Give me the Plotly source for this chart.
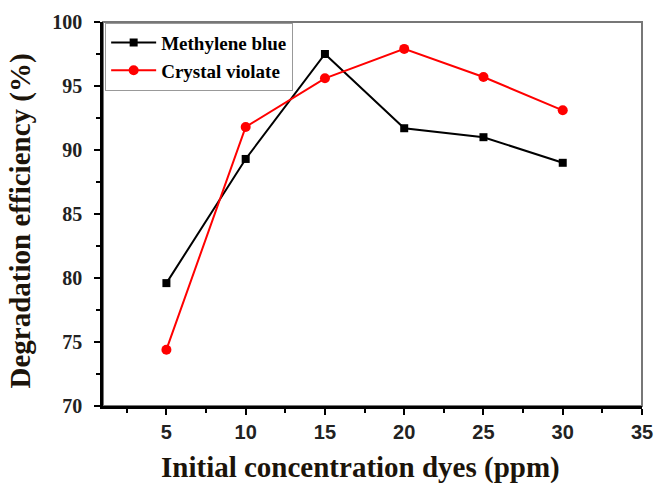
import plotly.graph_objects as go

# Initial dye concentration (ppm)
concentration = [5, 10, 15, 20, 25, 30]

# Degradation efficiency (%) for each dye
methylene_blue = [79.6, 89.3, 97.5, 91.7, 91.0, 89.0]
crystal_violate = [74.4, 91.8, 95.6, 97.9, 95.7, 93.1]

x_ticks = [5, 10, 15, 20, 25, 30, 35]
y_ticks = [70, 75, 80, 85, 90, 95, 100]

x_title = "Initial concentration dyes (ppm)"
y_title = "Degradation efficiency (%)"

serif = "Liberation Serif, Times New Roman, serif"
sans = "Liberation Sans, Arial, sans-serif"

fig = go.Figure()

fig.add_trace(go.Scatter(
    x=concentration, y=methylene_blue, name="Methylene blue",
    mode="lines+markers",
    line=dict(color="black", width=2),
    marker=dict(symbol="square", size=8, color="black"),
))
fig.add_trace(go.Scatter(
    x=concentration, y=crystal_violate, name="Crystal violate",
    mode="lines+markers",
    line=dict(color="#ff0000", width=2),
    marker=dict(symbol="circle", size=10, color="#ff0000"),
))

# thin grey frame on top/right; black axis lines drawn over left/bottom
fig.add_shape(type="rect", xref="paper", yref="paper", x0=0, y0=0, x1=1, y1=1,
              line=dict(color="#777777", width=2), layer="below")

# axis titles placed as annotations
fig.add_annotation(text=x_title, xref="paper", yref="paper",
                   x=0.477, y=-0.159, xanchor="center", yanchor="middle",
                   showarrow=False,
                   font=dict(family=serif, size=29, color="#1c140a", weight="bold"))
fig.add_annotation(text=y_title, xref="paper", yref="paper",
                   x=-0.153, y=0.482, xanchor="center", yanchor="middle",
                   textangle=-90, showarrow=False,
                   font=dict(family=serif, size=29, color="#1c140a", weight="bold"))

fig.update_layout(
    width=656, height=483,
    margin=dict(l=103, r=14, t=22, b=77, autoexpand=False),
    paper_bgcolor="white", plot_bgcolor="white",
    showlegend=True,
    legend=dict(
        x=0.004, y=0.998, xanchor="left", yanchor="top",
        bordercolor="#999999", borderwidth=1, bgcolor="white",
        font=dict(family=serif, size=19, color="black", weight="bold"),
        tracegroupgap=0, itemwidth=45,
    ),
    xaxis=dict(
        range=[1, 35], tickvals=x_ticks, ticktext=[str(v) for v in x_ticks],
        showgrid=False, zeroline=False, automargin=False,
        showline=True, linecolor="black", linewidth=2.5,
        ticks="outside", ticklen=6, tickwidth=2, tickcolor="black",
        tickfont=dict(family=sans, size=20, color="#222222", weight="bold"),
        minor=dict(ticks="outside", ticklen=4, tickwidth=2, tickcolor="black",
                   tick0=0, dtick=2.5),
    ),
    yaxis=dict(
        range=[70, 100], tickvals=y_ticks, ticktext=[str(v) for v in y_ticks],
        showgrid=False, zeroline=False, automargin=False,
        showline=True, linecolor="black", linewidth=2.5,
        ticks="outside", ticklen=6, tickwidth=2, tickcolor="black",
        ticklabelstandoff=8,
        tickfont=dict(family=serif, size=20, color="#222222", weight="bold"),
        minor=dict(ticks="outside", ticklen=4, tickwidth=2, tickcolor="black",
                   tick0=0, dtick=2.5),
    ),
)

fig.write_html("out.html")
